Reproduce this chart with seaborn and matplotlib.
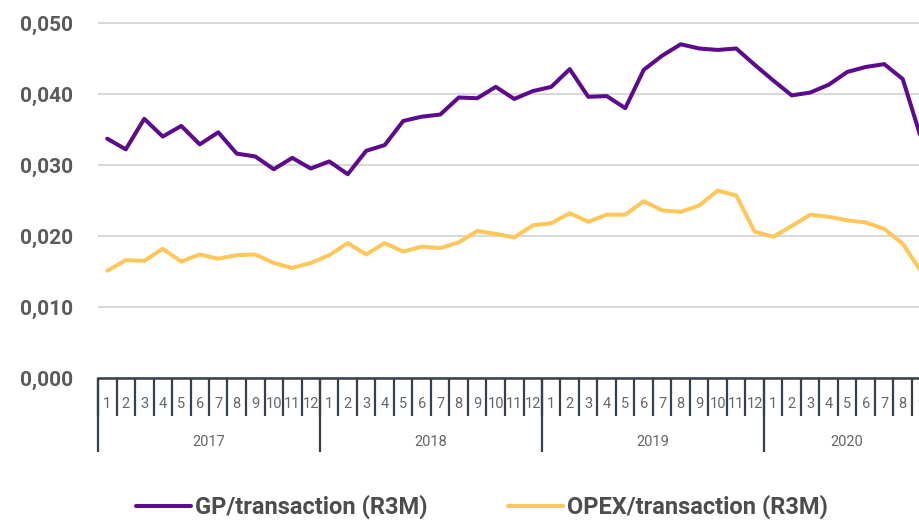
import numpy as np
import pandas as pd
import seaborn as sns
import matplotlib.pyplot as plt

# months shown per year (2020 stops at September)
years = ['2017', '2018', '2019', '2020']
months_per_year = [12, 12, 12, 9]

gp = [0.0337, 0.0322, 0.0365, 0.0340, 0.0355, 0.0329, 0.0346, 0.0316, 0.0312, 0.0294, 0.0310, 0.0295,
      0.0305, 0.0287, 0.0320, 0.0328, 0.0362, 0.0368, 0.0371, 0.0395, 0.0394, 0.0410, 0.0393, 0.0404,
      0.0410, 0.0435, 0.0396, 0.0397, 0.0380, 0.0434, 0.0454, 0.0470, 0.0464, 0.0462, 0.0464, 0.0441,
      0.0419, 0.0398, 0.0402, 0.0413, 0.0431, 0.0438, 0.0442, 0.0421, 0.0337]
opex = [0.0151, 0.0166, 0.0165, 0.0182, 0.0164, 0.0174, 0.0168, 0.0173, 0.0174, 0.0162, 0.0155, 0.0162,
        0.0173, 0.0190, 0.0174, 0.0190, 0.0178, 0.0185, 0.0183, 0.0191, 0.0207, 0.0203, 0.0198, 0.0215,
        0.0218, 0.0232, 0.0220, 0.0230, 0.0230, 0.0249, 0.0236, 0.0234, 0.0243, 0.0264, 0.0257, 0.0206,
        0.0199, 0.0214, 0.0230, 0.0227, 0.0222, 0.0219, 0.0210, 0.0189, 0.0150]

series_names = ['GP/transaction (R3M)', 'OPEX/transaction (R3M)']
colors = ['#5b0b8c', '#ffc75a']
y_ticks = [0.0, 0.01, 0.02, 0.03, 0.04, 0.05]

month_labels = []
for n in months_per_year:
    month_labels += [str(m) for m in range(1, n + 1)]
n_total = len(month_labels)

df = pd.DataFrame({
    'idx': list(range(n_total)) * 2,
    'value': gp + opex,
    'series': [series_names[0]] * n_total + [series_names[1]] * n_total,
})

sns.set_theme(style='white')
plt.rcParams['font.family'] = ['Roboto', 'DejaVu Sans']

fig = plt.figure(figsize=(9.19, 5.2), dpi=100)
# axes deliberately runs a little past the right edge (the original is cropped there)
ax = fig.add_axes([98 / 919, 142 / 520, n_total * 18.5 / 919, 358.6 / 520])

sns.lineplot(data=df, x='idx', y='value', hue='series', palette=colors,
             linewidth=2.9, ax=ax)

ax.set_xlim(-0.5, n_total - 0.5)
ax.set_ylim(0, 0.0505)
ax.set_xlabel('')
ax.set_ylabel('')

# y axis
ax.set_yticks(y_ticks)
ax.set_yticklabels([f'{v:.3f}'.replace('.', ',') for v in y_ticks])
ax.tick_params(axis='y', length=0, pad=18, labelsize=15, labelcolor='#5a5a5a')
for lab in ax.get_yticklabels():
    lab.set_fontweight('bold')
ax.grid(axis='y', color='#d9d9d9', linewidth=1.5)
ax.grid(axis='x', visible=False)

for side in ['left', 'top', 'right']:
    ax.spines[side].set_visible(False)
ax.spines['bottom'].set_color('#34404b')
ax.spines['bottom'].set_linewidth(1.8)

# month ticks
ax.set_xticks(range(n_total))
ax.set_xticklabels(month_labels)
ax.set_xticks(np.arange(-0.5, n_total, 1), minor=True)
ax.tick_params(axis='x', which='major', length=0, pad=14, labelsize=10.5, labelcolor='#666666')
ax.tick_params(axis='x', which='minor', bottom=True, length=27, width=1.6, color='#34404b')

# year ticks on a second axis
edges = np.concatenate([[0], np.cumsum(months_per_year)]) - 0.5
centers = (edges[:-1] + edges[1:]) / 2
sec = ax.secondary_xaxis('bottom')
sec.spines['bottom'].set_visible(False)
sec.set_xticks(centers)
sec.set_xticklabels(years)
sec.set_xticks(edges, minor=True)
sec.tick_params(axis='x', which='major', length=0, pad=41, labelsize=10.5, labelcolor='#666666')
sec.tick_params(axis='x', which='minor', length=53, width=1.6, color='#34404b')

handles, labels = ax.get_legend_handles_labels()
ax.get_legend().remove()
leg = fig.legend(handles, labels, loc='center', bbox_to_anchor=(0.5245, 13 / 520), ncol=2,
                 frameon=False, fontsize=17, handlelength=2.33, handletextpad=0.17,
                 columnspacing=3.4, borderpad=0.2)
for t in leg.get_texts():
    t.set_color('#4d4d4d')
    t.set_fontweight('bold')
for h in leg.legend_handles:
    h.set_linewidth(2.9)

fig.savefig('out.png', dpi=100)
